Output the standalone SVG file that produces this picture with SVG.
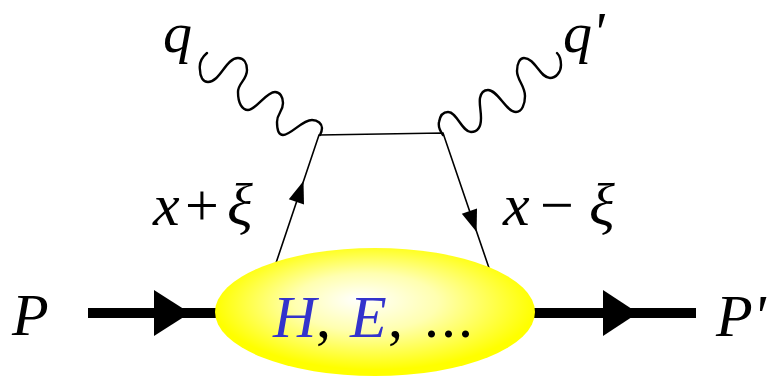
<svg xmlns="http://www.w3.org/2000/svg" width="771" height="377" viewBox="0 0 771 377">
<defs>
<radialGradient id="blob" cx="0.5" cy="0.45" r="0.5" fx="0.45" fy="0.4">
<stop offset="0" stop-color="#ffffff"/>
<stop offset="0.45" stop-color="#ffffb0"/>
<stop offset="0.8" stop-color="#ffff40"/>
<stop offset="1" stop-color="#ffff00"/>
</radialGradient>
</defs>
<style>
.lbl{font-family:"Liberation Serif","Times New Roman",serif;font-size:60px;fill:#000}
.sm{font-size:58px}
.it{font-style:italic}
.thin{stroke:#000;stroke-width:1.6;fill:none}
.wave{stroke:#000;stroke-width:2.4;fill:none;stroke-linecap:round}
.thick{stroke:#000;stroke-width:10;fill:none}
.head{fill:#000}
.gpd{fill:#3333cc;font-style:italic}
</style>
<g id="connectors">
<path class="thick" d="M88,313 H220"/>
<polygon class="head" points="154,290 154,336 190,313"/>
<path class="thick" d="M530,313 H696"/>
<polygon class="head" points="603,290 603,336 638,313"/>
<path class="thin" d="M276,263 L319,135 L443,133 L489,268"/>
<polygon class="head" points="303.5,181 304,204.4 288.8,199.2"/>
<polygon class="head" points="476.6,232 477,208.6 461.8,213.8"/>
<path class="wave" d="M207,53 C201,58 199,64 200,70 C200,77 203,82 208,82 C220,82 226,58 238,58 C244,58 247,63 247,70 C247,80 238,83 238,92 C238,103 242,110 248,110 C256,110 266,92 275,92 C280,92 283,97 283,103 C283,112 277,113 277,122 C277,130 279,135 283,135 C291,135 302,120 312,120 C318,120 322,124 322,128 C322,131 321,133 320,135"/>
<path class="wave" d="M443,135 C440,131 438,127 439,122 C440,116 443,112 448,112 C457,112 462,132 471,132 C478,132 481,126 481,118 C481,110 479,104 480,98 C481,93 484,90 488,90 C498,90 506,112 516,112 C522,112 525,104 525,96 C525,86 517,80 517,71 C517,63 520,58 524,58 C535,58 540,78 550,78 C556,78 561,72 561,65 C561,60 560,56 557,53"/>
</g>
<g id="hadron">
<ellipse cx="375" cy="312" rx="160" ry="64" fill="url(#blob)"/>
<text class="lbl" y="337"><tspan class="gpd" x="273">H</tspan><tspan x="316">,</tspan><tspan class="gpd" x="350">E</tspan><tspan x="388">,</tspan><tspan x="424" letter-spacing="2">...</tspan></text>
</g>
<g id="label-P"><text class="lbl it" x="12" y="335">P</text></g>
<g id="label-Pprime"><text class="lbl it" x="716" y="336">P'</text></g>
<g id="label-q"><text class="lbl sm it" x="163" y="52">q</text></g>
<g id="label-qprime"><text class="lbl sm it" x="563" y="52">q'</text></g>
<g id="label-xplus"><text class="lbl" y="225"><tspan class="it" x="153">x</tspan><tspan x="185">+</tspan><tspan class="it" x="227">ξ</tspan></text></g>
<g id="label-xminus"><text class="lbl" y="225"><tspan class="it" x="503">x</tspan><tspan x="540">−</tspan><tspan class="it" x="589">ξ</tspan></text></g>
</svg>
